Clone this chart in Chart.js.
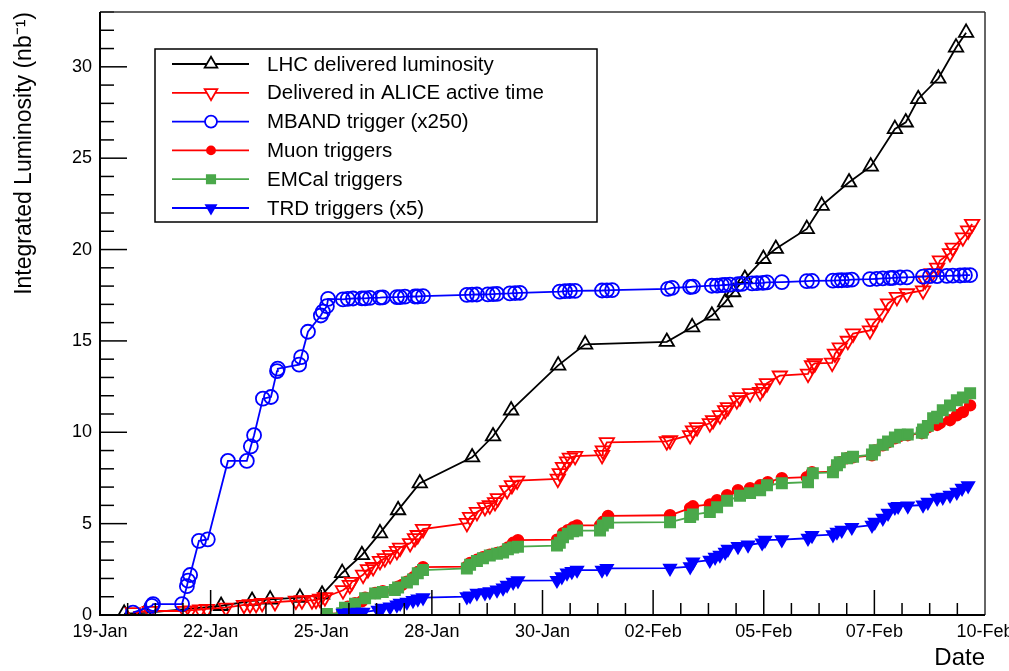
<!DOCTYPE html>
<html>
<head>
<meta charset="utf-8">
<script src="https://cdn.jsdelivr.net/npm/chart.js@4.4.1/dist/chart.umd.min.js"></script>
<style>
  html, body { margin: 0; padding: 0; background: #fff; }
  #wrap { width: 1009px; height: 671px; }
</style>
</head>
<body>
<div id="wrap"><canvas id="lumi" width="1009" height="671"></canvas></div>
<script>
// Integrated luminosity vs. time; x = days since 19-Jan 00:00, y = nb^-1
const lhcDelivered = [
  [0.60,0.08],[1.12,0.12],[3.01,0.50],[3.78,0.78],[4.23,0.85],[4.97,0.95],[5.52,1.12],
  [6.02,2.30],[6.51,3.28],[6.96,4.48],[7.41,5.74],[7.95,7.21],[9.25,8.63],[9.77,9.78],
  [10.22,11.20],[11.39,13.66],[12.06,14.81],[14.09,14.95],[14.72,15.75],[15.21,16.39],
  [15.54,17.12],[15.74,17.67],[16.03,18.40],[16.49,19.49],[16.80,20.04],[17.57,21.13],
  [17.94,22.40],[18.62,23.68],[19.16,24.55],[19.76,26.60],[20.03,26.96],[20.34,28.24],
  [20.84,29.36],[21.28,31.06],[21.53,31.87]
];

const aliceActive = [
  [0.82,0.15],[1.24,0.22],[2.11,0.22],[2.24,0.25],[2.49,0.30],[2.66,0.33],[3.13,0.40],
  [3.58,0.55],[3.73,0.58],[3.88,0.60],[4.03,0.65],[4.35,0.70],[4.87,0.78],[5.02,0.80],
  [5.27,0.80],[5.37,0.82],[5.47,0.88],[5.59,0.97],[6.04,1.35],[6.21,1.64],[6.26,1.80],
  [6.54,2.20],[6.66,2.50],[6.79,2.62],[6.96,2.95],[7.08,3.10],[7.21,3.28],[7.38,3.50],
  [7.46,3.68],[7.71,3.93],[7.83,4.20],[7.90,4.37],[8.03,4.70],[9.12,5.03],[9.20,5.36],
  [9.37,5.63],[9.57,5.90],[9.69,6.00],[9.82,6.17],[9.89,6.39],[10.12,6.83],[10.24,7.10],
  [10.37,7.35],[11.38,7.45],[11.43,7.76],[11.51,8.10],[11.61,8.40],[11.68,8.60],
  [11.81,8.70],[12.48,8.75],[12.50,9.00],[12.60,9.45],[14.09,9.50],[14.17,9.56],
  [14.67,9.84],[14.74,10.10],[14.84,10.27],[15.16,10.49],[15.24,10.66],[15.41,10.93],
  [15.54,11.20],[15.61,11.37],[15.83,11.75],[15.91,11.91],[16.16,12.13],[16.41,12.20],
  [16.48,12.40],[16.58,12.68],[16.90,13.10],[17.60,13.20],[17.70,13.66],[17.77,13.77],
  [18.20,13.80],[18.27,14.30],[18.39,14.64],[18.59,15.00],[18.72,15.40],[19.14,15.57],
  [19.22,15.95],[19.44,16.50],[19.59,17.05],[19.81,17.40],[20.06,17.60],[20.46,17.76],
  [20.51,18.30],[20.68,18.70],[20.81,19.00],[20.88,19.40],[21.13,19.80],[21.20,20.10],
  [21.45,20.66],[21.58,21.04],[21.68,21.40]
];

const mbandTrigger = [
  [0.82,0.13],[1.29,0.50],[1.32,0.60],[2.04,0.60],[2.16,1.58],[2.19,1.88],[2.24,2.19],
  [2.46,4.06],[2.68,4.14],[3.18,8.43],[3.65,8.43],[3.75,9.23],[3.83,9.84],[4.05,11.84],
  [4.25,11.93],[4.40,13.35],[4.42,13.48],[4.95,13.70],[5.00,14.11],[5.17,15.50],
  [5.49,16.39],[5.54,16.60],[5.64,16.90],[5.67,17.30],[6.04,17.27],[6.16,17.30],
  [6.29,17.32],[6.51,17.33],[6.59,17.33],[6.71,17.35],[6.96,17.37],[7.03,17.38],
  [7.38,17.40],[7.46,17.40],[7.58,17.42],[7.83,17.43],[7.90,17.43],[8.03,17.45],
  [9.12,17.52],[9.25,17.53],[9.37,17.54],[9.64,17.55],[9.77,17.56],[9.87,17.57],
  [10.19,17.60],[10.32,17.62],[10.44,17.63],[11.43,17.70],[11.56,17.72],[11.68,17.73],
  [11.81,17.74],[12.48,17.76],[12.60,17.77],[12.73,17.78],[14.12,17.85],[14.22,17.90],
  [14.67,17.95],[14.74,17.97],[15.21,18.02],[15.34,18.03],[15.46,18.05],[15.54,18.06],
  [15.66,18.08],[15.86,18.10],[15.96,18.12],[16.21,18.15],[16.33,18.16],[16.48,18.18],
  [16.58,18.20],[16.95,18.22],[17.57,18.27],[17.70,18.28],[18.22,18.30],[18.35,18.31],
  [18.44,18.32],[18.57,18.33],[18.69,18.35],[19.14,18.38],[19.31,18.40],[19.46,18.42],
  [19.64,18.44],[19.71,18.45],[19.89,18.47],[20.06,18.48],[20.46,18.52],[20.63,18.54],
  [20.81,18.55],[21.05,18.56],[21.20,18.57],[21.38,18.58],[21.50,18.60],[21.63,18.60]
];

const muonTriggers = [
  [5.64,0.05],[6.02,0.12],[6.16,0.45],[6.34,0.65],[6.51,0.75],[6.59,0.95],[6.84,1.20],
  [7.03,1.30],[7.33,1.40],[7.41,1.55],[7.51,1.65],[7.63,1.82],[7.78,2.05],[7.90,2.35],
  [8.03,2.62],[9.12,2.65],[9.20,2.85],[9.37,3.02],[9.52,3.17],[9.69,3.30],[9.87,3.40],
  [10.02,3.48],[10.14,3.70],[10.27,3.95],[10.39,4.10],[11.36,4.12],[11.43,4.15],
  [11.51,4.48],[11.63,4.64],[11.76,4.80],[11.86,4.90],[12.43,4.90],[12.50,5.10],
  [12.63,5.42],[14.17,5.46],[14.67,5.85],[14.74,5.95],[15.16,6.05],[15.34,6.28],
  [15.59,6.56],[15.86,6.83],[16.16,6.94],[16.41,7.10],[16.60,7.27],[16.95,7.49],
  [17.57,7.54],[17.70,7.81],[18.22,7.85],[18.32,8.20],[18.39,8.36],[18.57,8.58],
  [18.72,8.63],[19.19,8.74],[19.26,9.00],[19.46,9.29],[19.59,9.45],[19.76,9.67],
  [19.89,9.80],[20.08,9.84],[20.43,9.95],[20.46,10.10],[20.58,10.27],[20.81,10.40],
  [20.88,10.50],[21.13,10.66],[21.30,10.93],[21.45,11.10],[21.63,11.47]
];

const emcalTriggers = [
  [5.64,0.05],[6.02,0.10],[6.09,0.40],[6.34,0.62],[6.59,0.92],[6.84,1.18],[7.03,1.26],
  [7.33,1.37],[7.41,1.50],[7.63,1.78],[7.78,1.95],[7.90,2.28],[8.03,2.46],[9.12,2.55],
  [9.20,2.75],[9.37,2.95],[9.52,3.10],[9.69,3.25],[9.87,3.35],[10.02,3.42],[10.14,3.60],
  [10.27,3.70],[10.39,3.74],[11.36,3.80],[11.43,3.95],[11.51,4.25],[11.63,4.45],
  [11.76,4.58],[11.86,4.62],[12.43,4.62],[12.50,4.90],[12.63,5.05],[14.17,5.08],
  [14.67,5.36],[14.74,5.50],[15.16,5.63],[15.34,5.90],[15.59,6.25],[15.91,6.52],
  [16.16,6.67],[16.41,6.83],[16.58,7.10],[16.95,7.21],[17.60,7.27],[17.72,7.76],
  [18.22,7.81],[18.32,8.20],[18.39,8.36],[18.57,8.58],[18.72,8.66],[19.19,8.78],
  [19.26,9.02],[19.46,9.32],[19.59,9.50],[19.76,9.72],[19.89,9.86],[20.08,9.88],
  [20.43,9.98],[20.46,10.15],[20.58,10.35],[20.71,10.77],[20.81,10.85],[20.95,11.20],
  [21.13,11.47],[21.30,11.75],[21.45,11.90],[21.63,12.13]
];

const trdTriggers = [
  [6.04,0.10],[6.21,0.13],[6.41,0.15],[6.54,0.16],[6.91,0.27],[7.01,0.38],[7.21,0.44],
  [7.38,0.55],[7.46,0.65],[7.63,0.71],[7.78,0.80],[7.90,0.88],[8.03,0.95],[9.12,1.00],
  [9.20,1.05],[9.37,1.20],[9.57,1.22],[9.69,1.28],[9.87,1.37],[10.02,1.48],[10.12,1.64],
  [10.27,1.80],[10.39,1.88],[11.36,1.90],[11.48,2.10],[11.61,2.30],[11.73,2.38],
  [11.86,2.46],[12.48,2.46],[12.60,2.55],[14.17,2.56],[14.67,2.65],[14.74,2.90],
  [15.16,3.00],[15.29,3.17],[15.41,3.28],[15.54,3.44],[15.61,3.60],[15.86,3.75],
  [16.11,3.83],[16.46,3.95],[16.53,4.10],[16.95,4.12],[17.60,4.20],[17.70,4.35],
  [18.22,4.40],[18.32,4.54],[18.44,4.64],[18.69,4.80],[19.19,4.92],[19.26,5.08],
  [19.46,5.30],[19.59,5.57],[19.76,5.90],[19.84,5.95],[20.08,5.97],[20.46,6.02],
  [20.58,6.17],[20.81,6.39],[20.95,6.45],[21.13,6.56],[21.30,6.72],[21.43,6.94],
  [21.58,7.08]
];

// Time axis: 8 equal divisions over 22 days, labelled by date
const dateTickDays = [0, 2.75, 5.5, 8.25, 11, 13.75, 16.5, 19.25, 22];
const dateTickLabels = ['19-Jan','22-Jan','25-Jan','28-Jan','30-Jan','02-Feb','05-Feb','07-Feb','10-Feb'];
const lumiTickValues = [0, 5, 10, 15, 20, 25, 30];

const FONT = "'Liberation Sans', Arial, Helvetica, sans-serif";
const GREEN = '#4aa84a';

const series = [
  { label: 'LHC delivered luminosity', data: lhcDelivered, color: '#000000',
    style: 'triangle', rot: 0, r: 8.3, filled: false, order: 6 },
  { label: 'Delivered in ALICE active time', data: aliceActive, color: '#ff0000',
    style: 'triangle', rot: 180, r: 8.3, filled: false, order: 5 },
  { label: 'MBAND trigger (x250)', data: mbandTrigger, color: '#0000ff',
    style: 'circle', rot: 0, r: 7, filled: false, order: 4 },
  { label: 'Muon triggers', data: muonTriggers, color: '#ff0000',
    style: 'circle', rot: 0, r: 5.3, filled: true, order: 3 },
  { label: 'EMCal triggers', data: emcalTriggers, color: GREEN,
    style: 'rect', rot: 0, r: 7.2, filled: true, order: 2 },
  { label: 'TRD triggers (x5)', data: trdTriggers, color: '#0000ff',
    style: 'triangle', rot: 180, r: 7, filled: true, order: 1 }
];

// Axis frame with ROOT-like major/minor tick marks
const frameTicks = {
  id: 'frameTicks',
  afterDatasetsDraw(chart) {
    const { ctx, chartArea: a, scales: { x, y } } = chart;
    const seg = (x1, y1, x2, y2) => { ctx.beginPath(); ctx.moveTo(x1, y1); ctx.lineTo(x2, y2); ctx.stroke(); };
    ctx.save();
    ctx.strokeStyle = '#000';
    ctx.lineWidth = 1.5;
    for (let i = 0; i < dateTickDays.length - 1; i++) {
      const step = (dateTickDays[i + 1] - dateTickDays[i]) / 4;
      for (let k = 0; k < 4; k++) {
        const px = x.getPixelForValue(dateTickDays[i] + k * step);
        seg(px, a.bottom, px, a.bottom - (k === 0 ? 25 : 12));
      }
    }
    for (let v = 0; v <= y.max; v++) {
      const py = y.getPixelForValue(v);
      seg(a.left, py, a.left + (v % 5 === 0 ? 27 : 14), py);
    }
    ctx.strokeStyle = '#333';
    ctx.lineWidth = 1.5;
    seg(a.left, a.top, a.right, a.top);
    seg(a.right, a.top, a.right, a.bottom);
    ctx.strokeStyle = '#000';
    ctx.lineWidth = 2;
    seg(a.left, a.top, a.left, a.bottom + 1);
    seg(a.left - 1, a.bottom, a.right, a.bottom);
    ctx.restore();
  }
};

// Boxed legend inside the plot, line + marker per entry
const boxLegend = {
  id: 'boxLegend',
  afterDraw(chart) {
    const { ctx } = chart;
    const box = { x: 155, y: 49, w: 442, h: 173 };
    ctx.save();
    ctx.fillStyle = '#fff';
    ctx.fillRect(box.x, box.y, box.w, box.h);
    ctx.strokeStyle = '#000';
    ctx.lineWidth = 1.5;
    ctx.strokeRect(box.x, box.y, box.w, box.h);
    ctx.font = '20.5px ' + FONT;
    ctx.textBaseline = 'middle';
    series.forEach((s, i) => {
      const yy = 64 + i * 28.8;
      ctx.strokeStyle = s.color;
      ctx.lineWidth = 1.8;
      ctx.beginPath(); ctx.moveTo(172, yy); ctx.lineTo(249, yy); ctx.stroke();
      ctx.fillStyle = s.filled ? s.color : '#fff';
      Chart.helpers.drawPoint(ctx, {
        pointStyle: s.style, rotation: s.rot,
        radius: s.filled ? s.r - 1.3 : s.r - 1, borderWidth: 1.8
      }, 211, yy);
      ctx.fillStyle = '#000';
      ctx.fillText(s.label, 267, yy + 1);
    });
    ctx.restore();
  }
};

new Chart(document.getElementById('lumi'), {
  type: 'line',
  data: {
    datasets: series.map(s => ({
      label: s.label,
      data: s.data.map(([d, v]) => ({ x: d, y: v })),
      borderColor: s.color,
      borderWidth: 1.8,
      pointStyle: s.style,
      pointRotation: s.rot,
      pointRadius: s.r,
      pointHoverRadius: s.r,
      pointBorderColor: s.color,
      pointBorderWidth: 1.8,
      pointBackgroundColor: s.filled ? s.color : 'rgba(0,0,0,0)',
      tension: 0,
      fill: false,
      order: s.order
    }))
  },
  options: {
    responsive: false,
    animation: false,
    devicePixelRatio: 1,
    layout: { padding: { top: 12, right: 24, left: 0, bottom: 0 } },
    plugins: { legend: { display: false }, tooltip: { enabled: false } },
    scales: {
      x: {
        type: 'linear', min: 0, max: 22,
        grid: { display: false, drawTicks: false },
        border: { display: false },
        afterBuildTicks: sc => { sc.ticks = dateTickDays.map(v => ({ value: v })); },
        afterFit: sc => { sc.height = 56; sc.paddingLeft = 0; sc.paddingRight = 0; },
        ticks: {
          autoSkip: false, maxRotation: 0, minRotation: 0, padding: 6,
          color: '#000', font: { family: FONT, size: 18 },
          callback: (v, i) => dateTickLabels[i]
        },
        title: {
          display: true, text: 'Date', align: 'end', color: '#000',
          font: { family: FONT, size: 24, lineHeight: 1.05 }, padding: { top: 0, bottom: 0 }
        }
      },
      y: {
        type: 'linear', min: 0, max: 33,
        grid: { display: false, drawTicks: false },
        border: { display: false },
        afterBuildTicks: sc => { sc.ticks = lumiTickValues.map(v => ({ value: v })); },
        afterFit: sc => { sc.width = 100; sc.paddingTop = 0; sc.paddingBottom = 0; },
        ticks: { padding: 8, color: '#000', font: { family: FONT, size: 18 } },
        title: {
          display: true, text: 'Integrated Luminosity (nb\u207B\u00B9)', align: 'end', color: '#000',
          font: { family: FONT, size: 23 }, padding: { top: 11, bottom: 0 }
        }
      }
    }
  },
  plugins: [frameTicks, boxLegend]
});
</script>
</body>
</html>
